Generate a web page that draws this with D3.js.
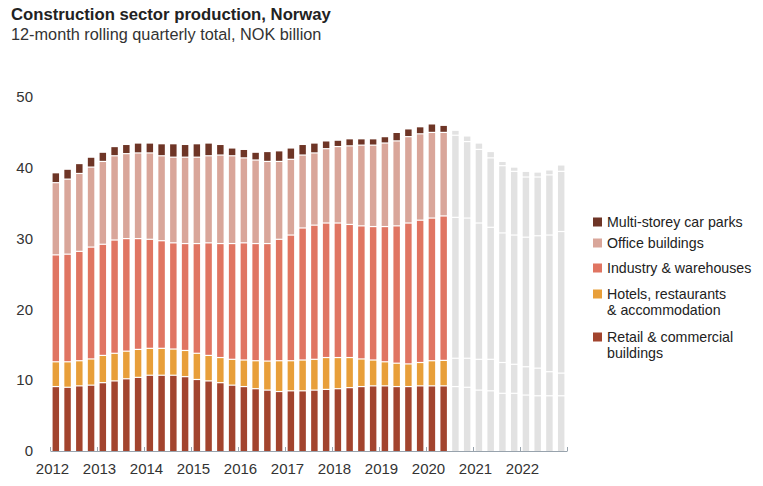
<!DOCTYPE html>
<html>
<head>
<meta charset="utf-8">
<script src="https://cdn.jsdelivr.net/npm/d3@7"></script>
<style>
  html, body { margin: 0; padding: 0; background: #fff; }
  svg { display: block; font-family: "Liberation Sans", Arial, Helvetica, sans-serif; }
</style>
</head>
<body>
<svg id="chart" width="763" height="486"></svg>
<script>
// ---- Data (NOK billion, 12-month rolling quarterly totals) ----
const quarters = [];
for (let y = 2012; y <= 2022; y++) for (let q = 1; q <= 4; q++) quarters.push(y + "Q" + q);
const forecastStart = "2020Q3"; // bars from here on are grey (forecast)

const retail   = [9.1, 9.0, 9.2, 9.3, 9.65, 9.9, 10.2, 10.4, 10.7, 10.7, 10.7, 10.5, 10.1, 9.9, 9.65, 9.3, 9.1, 8.8, 8.6, 8.4, 8.5, 8.5, 8.6, 8.7, 8.8, 8.95, 9.1, 9.2, 9.2, 9.1, 9.1, 9.2, 9.2, 9.2, 9.1, 9.0, 8.6, 8.5, 8.15, 8.15, 7.9, 7.8, 7.8, 7.8];
const hotels   = [3.5, 3.6, 3.55, 3.7, 3.85, 3.9, 3.9, 3.95, 3.8, 3.8, 3.7, 3.7, 3.7, 3.6, 3.55, 3.65, 3.75, 3.95, 4.1, 4.35, 4.25, 4.35, 4.35, 4.5, 4.4, 4.25, 3.9, 3.65, 3.4, 3.3, 3.2, 3.3, 3.55, 3.6, 4.0, 4.1, 4.35, 4.45, 4.35, 4.1, 4.0, 3.9, 3.4, 3.2];
const industry = [15.1, 15.2, 15.45, 15.8, 15.7, 16.0, 15.9, 15.65, 15.4, 15.2, 15.0, 15.1, 15.5, 15.9, 16.1, 16.35, 16.55, 16.55, 16.6, 17.15, 17.75, 18.65, 18.95, 19.0, 19.0, 18.8, 18.8, 18.85, 19.1, 19.4, 19.9, 20.1, 20.15, 20.4, 19.9, 19.8, 19.25, 18.65, 18.3, 18.25, 18.3, 18.7, 19.3, 20.0];
const office   = [10.2, 10.6, 11.0, 11.3, 11.7, 11.9, 12.0, 12.1, 12.2, 12.0, 12.1, 12.2, 12.2, 12.3, 12.5, 12.4, 12.0, 11.8, 11.6, 11.0, 10.7, 10.3, 10.2, 10.5, 10.8, 11.1, 11.4, 11.5, 11.8, 12.0, 12.2, 12.2, 12.1, 11.8, 11.6, 10.8, 10.4, 9.8, 9.5, 9.0, 8.5, 8.3, 8.5, 8.5];
const carParks = [1.4, 1.4, 1.4, 1.4, 1.3, 1.3, 1.3, 1.4, 1.4, 1.7, 1.9, 1.8, 1.9, 1.8, 1.5, 1.1, 1.2, 1.1, 1.4, 1.5, 1.6, 1.5, 1.4, 1.1, 0.9, 1.0, 0.9, 0.9, 0.9, 1.2, 1.1, 1.0, 1.2, 1.0, 0.7, 0.8, 0.9, 0.9, 0.6, 0.6, 0.8, 0.7, 0.7, 0.9];

const seriesNames  = ["Retail & commercial buildings", "Hotels, restaurants & accommodation", "Industry & warehouses", "Office buildings", "Multi-storey car parks"];
const seriesValues = [retail, hotels, industry, office, carParks];
const seriesColors = ["#a2442e", "#e89f3a", "#e07562", "#d9a69a", "#6e3526"];
const forecastColor = "#e2e2e2";

const yTicks = [0, 10, 20, 30, 40, 50];
const yearTicks = [2012, 2013, 2014, 2015, 2016, 2017, 2018, 2019, 2020, 2021, 2022, 2023];
const legendLines = [
  ["Multi-storey car parks"],
  ["Office buildings"],
  ["Industry & warehouses"],
  ["Hotels, restaurants", "& accommodation"],
  ["Retail & commercial", "buildings"]
];
const legendColors = ["#6e3526", "#d9a69a", "#e07562", "#e89f3a", "#a2442e"];

// ---- Layout ----
const svg = d3.select("#chart");
const x0 = 50, x1 = 567, yBase = 451, yTop = 97;

const x = d3.scaleBand().domain(quarters).range([x0, x1]).paddingInner(0.45).paddingOuter(0.22);
const y = d3.scaleLinear().domain([0, 50]).range([yBase, yTop]);
const xYear = d3.scaleLinear().domain([2012, 2023]).range([x0, x1]);

// Title
svg.append("text").attr("x", 11).attr("y", 20)
  .attr("font-size", 16.7).attr("font-weight", "bold").attr("fill", "#222")
  .text("Construction sector production, Norway");
svg.append("text").attr("x", 11).attr("y", 40)
  .attr("font-size", 16.3).attr("fill", "#333")
  .text("12-month rolling quarterly total, NOK billion");

// Stack
const table = quarters.map((q, i) => {
  const row = { q };
  seriesNames.forEach((n, k) => row[n] = seriesValues[k][i]);
  return row;
});
const stack = d3.stack().keys(seriesNames)(table);
const isForecast = q => quarters.indexOf(q) >= quarters.indexOf(forecastStart);

const g = svg.append("g");
stack.forEach((layer, k) => {
  g.selectAll(null).data(layer).enter().append("rect")
    .attr("x", d => x(d.data.q))
    .attr("width", x.bandwidth())
    .attr("y", d => y(d[1]) + 0.6)
    .attr("height", d => Math.max(0, y(d[0]) - y(d[1]) - (k === 0 ? 0.6 : 1.2)))
    .attr("fill", d => isForecast(d.data.q) ? forecastColor : seriesColors[k]);
});

// Y labels
svg.append("g").selectAll("text").data(yTicks).enter().append("text")
  .attr("x", 33).attr("y", d => y(d)).attr("dy", "0.35em")
  .attr("text-anchor", "end").attr("font-size", 15).attr("fill", "#333")
  .text(d => d);

// X axis
const xAxis = d3.axisBottom(xYear).tickValues(yearTicks)
  .tickFormat(d => d === 2023 ? "" : d)
  .tickSizeInner(-4).tickSizeOuter(0).tickPadding(12);
const ax = svg.append("g").attr("transform", `translate(0,${yBase})`).call(xAxis);
ax.select(".domain").attr("stroke", "#98a3ad");
ax.selectAll(".tick line").attr("stroke", "#98a3ad");
ax.selectAll(".tick text").attr("font-size", 15).attr("fill", "#333")
  .attr("font-family", "Liberation Sans, Arial, sans-serif").attr("dx", 2);

// Legend
const lg = svg.append("g");
const rowY = [222, 243, 268, 294, 337];
legendLines.forEach((lines, i) => {
  lg.append("rect").attr("x", 593).attr("y", rowY[i] - 4.5).attr("width", 9).attr("height", 9)
    .attr("fill", legendColors[i]);
  lines.forEach((t, j) => {
    lg.append("text").attr("x", 607).attr("y", rowY[i] + j * 16).attr("dy", "0.35em")
      .attr("font-size", 14.2).attr("fill", "#222").text(t);
  });
});
</script>
</body>
</html>
